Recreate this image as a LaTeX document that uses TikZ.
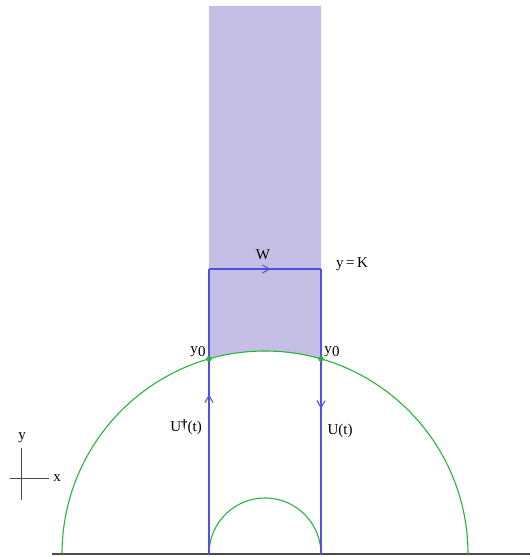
\documentclass[tikz,border=0pt]{standalone}
\usepackage{fontspec}
\setmainfont{Liberation Serif}
\usetikzlibrary{arrows.meta,decorations.markings}
\definecolor{regionfill}{RGB}{197,191,230}
\definecolor{pathblue}{RGB}{80,80,225}
\definecolor{arcgreen}{RGB}{40,180,60}
\definecolor{basegray}{RGB}{75,75,75}
\tikzset{
  lbl/.style={inner sep=0pt, font=\fontsize{15}{17}\selectfont},
  bluepath/.style={draw=pathblue, line width=1.2pt},
  arcline/.style={draw=arcgreen, line width=1.1pt},
  midarrow/.style={postaction={decorate, decoration={markings,
     mark=at position #1 with {\arrow{Straight Barb[length=7pt,width=8pt,line width=1.1pt]}}}}},
  dotmark/.style={circle, fill=arcgreen, inner sep=0pt, minimum size=5.5pt}
}
\begin{document}
\begin{tikzpicture}[x=1pt,y=1pt]
\useasboundingbox (0,0) rectangle (530,557);
% key points
\coordinate (C) at (265,3);
\coordinate (BL) at (209,3);
\coordinate (BR) at (321,3);
\coordinate (TL) at (209,288);
\coordinate (TR) at (321,288);
% shaded region
\fill[regionfill] (209,551) -- (321,551) -- (321,198.1)
  arc[start angle=74.0, end angle=106.0, radius=203] -- cycle;
% baseline
\draw[basegray, line width=1.6pt] (52,3) -- (530,3);
% arcs
\draw[arcline] (62,3) arc[start angle=180, end angle=0, radius=203];
\draw[arcline] (BL) arc[start angle=180, end angle=0, radius=56];
% blue path
\draw[bluepath, midarrow=0.56] (BL) -- (TL);
\draw[bluepath, midarrow=0.55] (TL) -- (TR);
\draw[bluepath, midarrow=0.49] (TR) -- (BR);
% y0 points
\node[dotmark] (p0l) at (209,198.1) {};
\node[dotmark] (p0r) at (321,198.1) {};
% labels
\node[lbl] (w) at (263,302) {W};
\node[lbl] (yk) at (352,293) {y\,=\,K};
\node[lbl] (y0l) at (198,205) {y\kern0.3pt\raisebox{-0.45ex}{0}};
\node[lbl] (y0r) at (332,205) {y\kern0.3pt\raisebox{-0.45ex}{0}};
\node[lbl] (ud) at (186,130) {U\raisebox{0.55ex}{\fontsize{13}{13}\selectfont\textbf{†}}(t)};
\node[lbl] (u) at (340,126) {U(t)};
% axes indicator
\draw[basegray, line width=1pt] (21,57) -- (21,109);
\draw[basegray, line width=1pt] (10,78) -- (49,78);
\node[lbl] (ylab) at (22,119) {y};
\node[lbl] (xlab) at (57,79) {x};
\end{tikzpicture}
\end{document}
